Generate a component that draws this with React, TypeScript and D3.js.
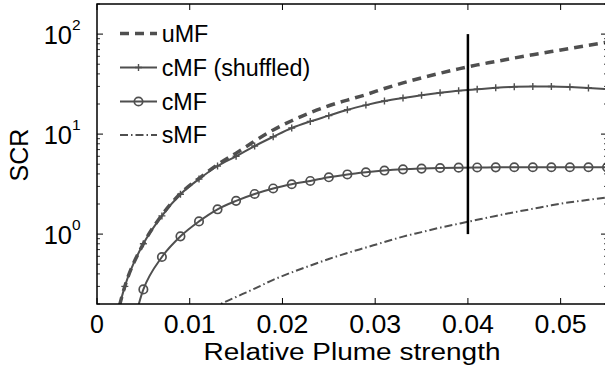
import { scaleLinear, scaleLog, line, curveMonotoneX } from "d3";

// x positions of the samples (markers sit on every one of them)
const xs = [
  0.001, 0.003, 0.005, 0.007, 0.009, 0.011, 0.013, 0.015, 0.017, 0.019,
  0.021, 0.023, 0.025, 0.027, 0.029, 0.031, 0.033, 0.035, 0.037, 0.039,
  0.041, 0.043, 0.045, 0.047, 0.049, 0.051, 0.053, 0.055,
];

const uMF = [
  0.05, 0.3, 0.8, 1.55, 2.55, 3.6, 4.95, 6.45, 8.5, 11.0, 13.6, 16.4, 19.2,
  21.9, 24.8, 28.6, 32.5, 36.5, 40.6, 44.9, 49.2, 53.2, 57.7, 62.2, 66.9, 72.0,
  77.4, 83.2,
];
const cMFshuffled = [
  0.05, 0.3, 0.8, 1.52, 2.5, 3.55, 4.8, 6.0, 7.6, 9.4, 11.5, 13.4, 15.3, 17.5,
  19.5, 21.4, 23.0, 24.5, 25.9, 27.2, 28.1, 29.0, 29.7, 30.0, 29.9, 29.5, 28.9,
  28.2,
];
const cMF = [
  0.02, 0.06, 0.28, 0.59, 0.95, 1.34, 1.77, 2.15, 2.52, 2.86, 3.15, 3.4, 3.7,
  3.95, 4.15, 4.32, 4.44, 4.52, 4.58, 4.62, 4.64, 4.65, 4.66, 4.66, 4.66, 4.66,
  4.66, 4.66,
];
const sMF = [
  0.04, 0.05, 0.065, 0.08, 0.1, 0.13, 0.19, 0.235, 0.285, 0.349, 0.414, 0.484,
  0.564, 0.647, 0.734, 0.833, 0.944, 1.047, 1.16, 1.27, 1.39, 1.52, 1.655,
  1.79, 1.94, 2.08, 2.2, 2.33,
];

const xTicks = [0, 0.01, 0.02, 0.03, 0.04, 0.05];
const xTickLabels = ["0", "0.01", "0.02", "0.03", "0.04", "0.05"];
const yDecades = [0, 1, 2];
const legendLabels = ["uMF", "cMF (shuffled)", "cMF", "sMF"];
const markerX = 0.04;
const markerRange = [1, 100];

const W = 605;
const H = 368;
const FONT = "'Liberation Sans', Arial, Helvetica, sans-serif";
const GRAY = "#4f4f4f";

const App = () => {
  const left = 97;
  const right = 607;
  const top = 4;
  const bottom = 304;

  const x = scaleLinear().domain([0, 0.055]).range([left, right]);
  const y = scaleLog().domain([0.2, 200]).range([bottom, top]);

  const lineGen = line<number>()
    .x((d, i) => x(xs[i]))
    .y((d) => y(d))
    .curve(curveMonotoneX);

  // minor ticks 2..9 of each decade that fall in the domain
  const minor: number[] = [];
  for (let e = -1; e <= 2; e++) {
    for (let m = 2; m <= 9; m++) {
      const v = m * Math.pow(10, e);
      if (v >= 0.2 && v <= 200) minor.push(v);
    }
  }

  const plus = (cx: number, cy: number, k: string) => (
    <path
      key={k}
      d={`M${cx - 3.5},${cy}H${cx + 3.5}M${cx},${cy - 3.5}V${cy + 3.5}`}
      stroke={GRAY}
      strokeWidth={1.4}
    />
  );
  const ring = (cx: number, cy: number, k: string) => (
    <circle
      key={k}
      cx={cx}
      cy={cy}
      r={4.2}
      fill="none"
      stroke={GRAY}
      strokeWidth={1.7}
    />
  );

  const legendY = [33.5, 67.5, 101.5, 135];

  return (
    <div style={{ position: "fixed", left: 0, top: 0 }}>
      <svg width={W} height={H} style={{ display: "block", background: "#fff" }}>
        <defs>
          <clipPath id="plot-clip">
            <rect x={left} y={top} width={right - left} height={bottom - top} />
          </clipPath>
        </defs>

        <g clipPath="url(#plot-clip)">
          <path
            d={lineGen(sMF) || ""}
            fill="none"
            stroke={GRAY}
            strokeWidth={2}
            strokeDasharray="8 3 1.5 3"
          />
          <path d={lineGen(cMF) || ""} fill="none" stroke={GRAY} strokeWidth={2} />
          {cMF.map((v, i) => ring(x(xs[i]), y(v), "c" + i))}
          <path
            d={lineGen(cMFshuffled) || ""}
            fill="none"
            stroke={GRAY}
            strokeWidth={2}
          />
          {cMFshuffled.map((v, i) => plus(x(xs[i]), y(v), "s" + i))}
          <path
            d={lineGen(uMF) || ""}
            fill="none"
            stroke={GRAY}
            strokeWidth={3.5}
            strokeDasharray="9 6"
          />
        </g>

        {/* vertical marker line */}
        <line
          x1={x(markerX)}
          x2={x(markerX)}
          y1={y(markerRange[0])}
          y2={y(markerRange[1])}
          stroke="#000"
          strokeWidth={2.5}
        />

        {/* frame */}
        <rect
          x={left}
          y={top}
          width={right - left}
          height={bottom - top}
          fill="none"
          stroke="#000"
          strokeWidth={1.5}
        />

        {/* x ticks, bottom and top */}
        {xTicks.map((t, i) => (
          <g key={"xt" + i}>
            <line x1={x(t)} x2={x(t)} y1={bottom} y2={bottom - 6} stroke="#000" strokeWidth={1} />
            <line x1={x(t)} x2={x(t)} y1={top} y2={top + 6} stroke="#000" strokeWidth={1} />
            <text
              x={x(t)}
              y={332.5}
              textAnchor="middle"
              fontFamily={FONT}
              fontSize={25}
              textLength={t === 0 ? undefined : 52}
              lengthAdjust="spacingAndGlyphs"
              fill="#000"
            >
              {xTickLabels[i]}
            </text>
          </g>
        ))}

        {/* y ticks */}
        {yDecades.map((e) => {
          const v = Math.pow(10, e);
          return (
            <g key={"yt" + e}>
              <line x1={left} x2={left + 6} y1={y(v)} y2={y(v)} stroke="#000" strokeWidth={1} />
              <line x1={right} x2={right - 6} y1={y(v)} y2={y(v)} stroke="#000" strokeWidth={1} />
              <text
                x={72}
                y={y(v) + 10.3}
                textAnchor="end"
                fontFamily={FONT}
                fontSize={25.5}
                fill="#000"
              >
                10
              </text>
              <text x={72} y={y(v) - 4} fontFamily={FONT} fontSize={15.5} fill="#000">
                {e}
              </text>
            </g>
          );
        })}
        {minor.map((v, i) => (
          <g key={"ym" + i}>
            <line x1={left} x2={left + 3} y1={y(v)} y2={y(v)} stroke="#000" strokeWidth={0.8} />
            <line x1={right} x2={right - 3} y1={y(v)} y2={y(v)} stroke="#000" strokeWidth={0.8} />
          </g>
        ))}

        {/* axis titles */}
        <text
          x={(left + right) / 2}
          y={360}
          textAnchor="middle"
          fontFamily={FONT}
          fontSize={23}
          textLength={297}
          lengthAdjust="spacingAndGlyphs"
          fill="#000"
        >
          Relative Plume strength
        </text>
        <text
          transform={`translate(28.3,155) rotate(-90)`}
          textAnchor="middle"
          fontFamily={FONT}
          fontSize={25}
          fill="#000"
        >
          SCR
        </text>

        {/* legend */}
        {legendLabels.map((lab, i) => {
          const ly = legendY[i];
          const x0 = 120;
          const x1 = 157;
          const mid = (x0 + x1) / 2;
          let sample;
          if (i === 0)
            sample = (
              <line x1={x0} x2={x1} y1={ly} y2={ly} stroke={GRAY} strokeWidth={3.5} strokeDasharray="9 6" />
            );
          else if (i === 3)
            sample = (
              <line x1={x0} x2={x1} y1={ly} y2={ly} stroke={GRAY} strokeWidth={2} strokeDasharray="8 3 1.5 3" />
            );
          else
            sample = (
              <g>
                <line x1={x0} x2={x1} y1={ly} y2={ly} stroke={GRAY} strokeWidth={2} />
                {i === 1 ? plus(mid, ly, "lp") : ring(mid, ly, "lr")}
              </g>
            );
          return (
            <g key={"lg" + i}>
              {sample}
              <text x={161.7} y={ly + 8.2} fontFamily={FONT} fontSize={23.3} fill="#000">
                {lab}
              </text>
            </g>
          );
        })}
      </svg>
    </div>
  );
};

export default App;
